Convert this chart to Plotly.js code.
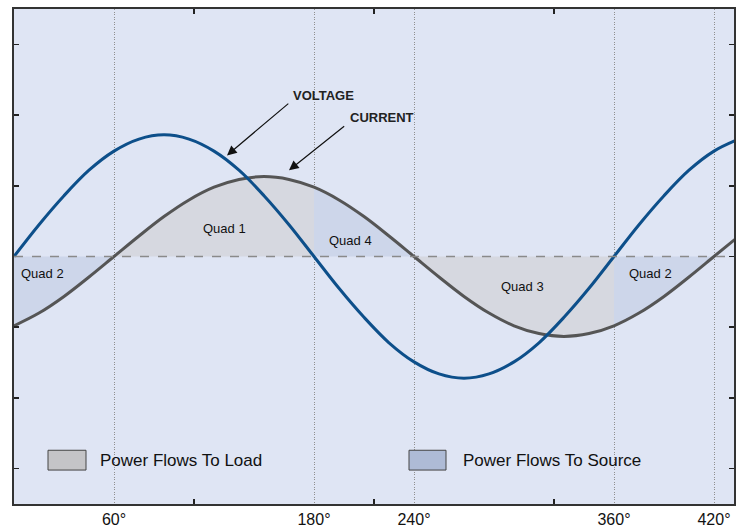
<!DOCTYPE html>
<html>
<head>
<meta charset="utf-8">
<script src="https://cdn.plot.ly/plotly-3.0.1.min.js"></script>
<style>html,body{margin:0;padding:0;background:#fff;}#chart{width:739px;height:527px;}</style>
</head>
<body>
<div id="chart"></div>
<script>
// Angles in degrees
const angles = [0,15,30,45,60,75,90,105,120,135,150,165,180,195,210,225,240,255,270,285,300,315,330,345,360,375,390,405,420,435];
// Voltage (in y tick units)
const voltage = [0,0.45,0.86,1.22,1.49,1.66,1.72,1.66,1.49,1.22,0.86,0.45,0,-0.45,-0.86,-1.22,-1.49,-1.66,-1.72,-1.66,-1.49,-1.22,-0.86,-0.45,0,0.45,0.86,1.22,1.49,1.66];
// Current (lags voltage)
const current = [-0.98,-0.80,-0.565,-0.29,0,0.29,0.565,0.80,0.98,1.09,1.13,1.09,0.98,0.80,0.565,0.29,0,-0.29,-0.565,-0.80,-0.98,-1.09,-1.13,-1.09,-0.98,-0.80,-0.565,-0.29,0,0.29];
// Quadrant segments
const quadStart = [0,60,180,240,360];
const quadEnd   = [60,180,240,360,420];
const quadNames = ["Quad 2","Quad 1","Quad 4","Quad 3","Quad 2"];
const quadFlow  = ["source","load","source","load","source"];
const xTickVals = [60,180,240,360,420];
const xTickText = ["60°","180°","240°","360°","420°"];
const legendLabels = ["Power Flows To Load","Power Flows To Source"];

const fillColor = {load:"#d6d8e0", source:"#cdd6ea"};
const swatchColor = {load:"#c4c4c7", source:"#aebbd6"};

const traces = [];
for (let i = 0; i < quadStart.length; i++) {
  const xs = [], ys = [];
  angles.forEach((a, k) => { if (a >= quadStart[i] && a <= quadEnd[i]) { xs.push(a); ys.push(current[k]); } });
  traces.push({x: xs, y: ys, type: "scatter", mode: "lines", line: {width: 0, shape: "spline"},
    fill: "tozeroy", fillcolor: fillColor[quadFlow[i]], hoverinfo: "skip", showlegend: false});
}
traces.push({x: angles, y: current, type: "scatter", mode: "lines", name: "Current",
  line: {color: "#555555", width: 3, shape: "spline"}, showlegend: false});
traces.push({x: angles, y: voltage, type: "scatter", mode: "lines", name: "Voltage",
  line: {color: "#0d4f8a", width: 3, shape: "spline"}, showlegend: false});
// invisible trace carrying the extra tick-mark axis
traces.push({x: [0], y: [0], xaxis: "x2", yaxis: "y", mode: "markers", marker: {opacity: 0}, hoverinfo: "skip", showlegend: false});

const quadLabelPos = [[17,-0.24],[126,0.39],[202,0.22],[305,-0.42],[382,-0.24]];
const annotations = quadNames.map((n, i) => ({x: quadLabelPos[i][0], y: quadLabelPos[i][1], text: n, showarrow: false,
  font: {family: "Liberation Sans, Arial, sans-serif", size: 13, color: "#111"}}));

annotations.push({x: 166, y: 2.27, text: "<b>VOLTAGE</b>", showarrow: false, xanchor: "left", yanchor: "middle",
  font: {family: "Liberation Sans, Arial, sans-serif", size: 13, color: "#222"}});
annotations.push({x: 200.4, y: 1.96, text: "<b>CURRENT</b>", showarrow: false, xanchor: "left", yanchor: "middle",
  font: {family: "Liberation Sans, Arial, sans-serif", size: 13, color: "#222"}});
annotations.push({x: 127.8, y: 1.43, ax: 165.5, ay: 2.18, axref: "x", ayref: "y", text: "", showarrow: true,
  arrowhead: 2, arrowsize: 1.6, arrowwidth: 1.2, arrowcolor: "#111", standoff: 0});
annotations.push({x: 165, y: 1.22, ax: 199, ay: 1.86, axref: "x", ayref: "y", text: "", showarrow: true,
  arrowhead: 2, arrowsize: 1.6, arrowwidth: 1.2, arrowcolor: "#111", standoff: 0});

annotations.push({x: 50.4, y: -2.88, text: legendLabels[0], showarrow: false, xanchor: "left", yanchor: "middle",
  font: {family: "Liberation Sans, Arial, sans-serif", size: 17, color: "#111"}});
annotations.push({x: 268, y: -2.88, text: legendLabels[1], showarrow: false, xanchor: "left", yanchor: "middle",
  font: {family: "Liberation Sans, Arial, sans-serif", size: 17, color: "#111"}});

const shapes = [
  {type: "line", xref: "x", yref: "y", x0: 0, x1: 432, y0: 0, y1: 0, line: {color: "#8a8a8a", width: 1.5, dash: "dash"}, layer: "above"},
  {type: "rect", xref: "x", yref: "y", x0: 20.4, x1: 43.2, y0: -2.74, y1: -3.02, fillcolor: swatchColor.load, line: {color: "#444", width: 1}},
  {type: "rect", xref: "x", yref: "y", x0: 237, x1: 259.2, y0: -2.74, y1: -3.02, fillcolor: swatchColor.source, line: {color: "#444", width: 1}}
];

const layout = {
  width: 739, height: 527,
  margin: {l: 14, r: 5, t: 9, b: 23, pad: 0},
  paper_bgcolor: "#ffffff", plot_bgcolor: "#dfe5f4",
  showlegend: false,
  xaxis: {range: [0, 432], tickvals: xTickVals, ticktext: xTickText, ticks: "", showgrid: true,
    gridcolor: "#8f8f8f", griddash: "1px,1.5px", gridwidth: 1, zeroline: false,
    showline: true, linecolor: "#333", linewidth: 2, mirror: true,
    tickfont: {family: "Liberation Sans, Arial, sans-serif", size: 16, color: "#111"}},
  xaxis2: {range: [0, 432], overlaying: "x", side: "bottom", tickvals: [108,216,324], ticks: "inside", ticklen: 5,
    tickwidth: 1.5, tickcolor: "#222", showticklabels: false, showgrid: false, zeroline: false, showline: false, mirror: "ticks"},
  yaxis: {range: [-3.5, 3.5], tickvals: [-3,-2,-1,0,1,2,3], showticklabels: false, ticks: "inside", ticklen: 5,
    tickwidth: 1.5, tickcolor: "#222", showgrid: false, zeroline: false,
    showline: true, linecolor: "#333", linewidth: 2, mirror: "ticks"},
  annotations: annotations,
  shapes: shapes
};

Plotly.newPlot("chart", traces, layout, {staticPlot: true, displayModeBar: false});
</script>
</body>
</html>
